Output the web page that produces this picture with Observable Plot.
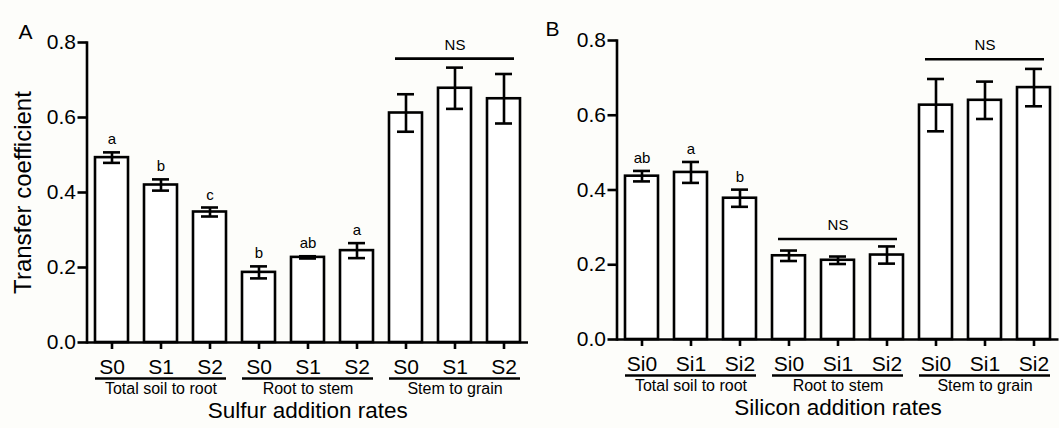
<!DOCTYPE html>
<html>
<head>
<meta charset="utf-8">
<script src="https://cdn.jsdelivr.net/npm/d3@7"></script>
<script src="https://cdn.jsdelivr.net/npm/@observablehq/plot@0.6"></script>
<style>
  html, body { margin: 0; padding: 0; background: #fdfdfa; }
  #row { display: flex; flex-direction: row; width: 1059px; height: 428px; }
  #row svg { display: block; }
</style>
</head>
<body>
<div id="row"></div>
<script>
// ---- data ----
const groups = ["Total soil to root", "Root to stem", "Stem to grain"];
const sulfurRates = ["S0", "S1", "S2"];
const siliconRates = ["Si0", "Si1", "Si2"];

const sulfurMean = [0.493, 0.420, 0.348, 0.187, 0.227, 0.245, 0.612, 0.678, 0.650];
const sulfurSE   = [0.014, 0.015, 0.012, 0.016, 0.003, 0.020, 0.050, 0.055, 0.066];
const sulfurLetters = ["a", "b", "c", "b", "ab", "a", "", "", ""];
const sulfurNS = [{group: "Stem to grain", y: 0.757}];

const siliconMean = [0.437, 0.447, 0.378, 0.224, 0.212, 0.226, 0.627, 0.640, 0.674];
const siliconSE   = [0.014, 0.028, 0.023, 0.014, 0.010, 0.023, 0.070, 0.050, 0.050];
const siliconLetters = ["ab", "a", "b", "", "", "", "", "", ""];
const siliconNS = [{group: "Root to stem", y: 0.269}, {group: "Stem to grain", y: 0.750}];

const yTicks = [0, 0.2, 0.4, 0.6, 0.8];

const FONT = "'Liberation Sans', Arial, Helvetica, sans-serif";
const SW = 2.6;

function panel({rates, mean, se, letters, ns, xTitle, panelLabel, width, marginTop, marginBottom, marginRight, showYTitle, labelDx, labelDy}) {
  const key = (g, r) => g + "|" + r;
  const data = [];
  groups.forEach((g, gi) => rates.forEach((r, ri) => {
    const i = gi * rates.length + ri;
    data.push({key: key(g, r), group: g, rate: r, mean: mean[i], se: se[i], letter: letters[i]});
  }));
  const domain = data.map(d => d.key);
  const first = g => key(g, rates[0]);
  const mid = g => key(g, rates[1]);
  const last = g => key(g, rates[rates.length - 1]);

  const marks = [
    Plot.barY(data, {x: "key", y: "mean", fill: "white", stroke: "black", strokeWidth: SW}),
    Plot.ruleX(data, {x: "key", y1: d => d.mean - d.se, y2: d => d.mean + d.se, stroke: "black", strokeWidth: SW}),
    Plot.tickY(data, {x: "key", y: d => d.mean + d.se, insetLeft: 8, insetRight: 8, stroke: "black", strokeWidth: SW}),
    Plot.tickY(data, {x: "key", y: d => d.mean - d.se, insetLeft: 8, insetRight: 8, stroke: "black", strokeWidth: SW}),
    Plot.text(data.filter(d => d.letter), {x: "key", y: d => d.mean + d.se, text: "letter", lineAnchor: "bottom", dy: -8, fontSize: 15, fill: "black"}),
    Plot.ruleY(ns, {x1: d => first(d.group), x2: d => last(d.group), y: "y", insetLeft: 6, insetRight: 6, stroke: "black", strokeWidth: SW}),
    Plot.text(ns, {x: d => mid(d.group), y: "y", text: () => "NS", lineAnchor: "bottom", dy: -9, fontSize: 15, fill: "black"}),
    Plot.ruleY([0], {stroke: "black", strokeWidth: SW}),
    Plot.frame({anchor: "left", stroke: "black", strokeWidth: SW}),
    Plot.axisY({ticks: yTicks, tickFormat: d3.format(".1f"), tickSize: 9, tickPadding: 2, fontSize: 21, strokeWidth: SW, stroke: "black", fill: "black", label: null}),
    Plot.axisX({tickSize: 7, tickPadding: 10, tickFormat: d => d.split("|")[1], fontSize: 21, strokeWidth: SW, stroke: "black", fill: "black", label: null}),
    Plot.ruleY(groups, {x1: g => first(g), x2: g => last(g), y: () => 0, dy: 36, stroke: "black", strokeWidth: SW}),
    Plot.text(groups, {x: g => mid(g), y: () => 0, dy: 46, text: g => g, fontSize: 16, fill: "black"}),
    Plot.text([xTitle], {frameAnchor: "bottom", lineAnchor: "middle", textAnchor: "middle", dy: 68, text: d => d, fontSize: 22.5, fill: "black"}),
    Plot.text([panelLabel], {frameAnchor: "top-left", dx: labelDx, dy: labelDy, text: d => d, textAnchor: "start", lineAnchor: "bottom", fontSize: 21, fill: "black"})
  ];
  if (showYTitle) {
    marks.push(Plot.text(["Transfer coefficient"], {frameAnchor: "left", rotate: -90, textAnchor: "middle", lineAnchor: "middle", dx: -64, text: d => d, fontSize: 24, fill: "black"}));
  }

  return Plot.plot({
    width, height: 428,
    marginLeft: 86.5, marginRight, marginTop, marginBottom,
    style: {fontFamily: FONT, fontSize: "21px", background: "transparent", color: "black", overflow: "visible"},
    x: {type: "band", domain, paddingInner: 0.32, paddingOuter: 0.16, axis: null},
    y: {domain: [0, 0.8], axis: null},
    marks
  });
}

const row = document.getElementById("row");
row.appendChild(panel({
  rates: sulfurRates, mean: sulfurMean, se: sulfurSE, letters: sulfurLetters, ns: sulfurNS,
  xTitle: "Sulfur addition rates", panelLabel: "A", width: 530,
  marginTop: 42, marginBottom: 86, marginRight: 2, showYTitle: true, labelDx: -68.5, labelDy: -4
}));
row.appendChild(panel({
  rates: siliconRates, mean: siliconMean, se: siliconSE, letters: siliconLetters, ns: siliconNS,
  xTitle: "Silicon addition rates", panelLabel: "B", width: 529,
  marginTop: 40, marginBottom: 89, marginRight: 0.5, showYTitle: false, labelDx: -71.5, labelDy: -5
}));
</script>
</body>
</html>
